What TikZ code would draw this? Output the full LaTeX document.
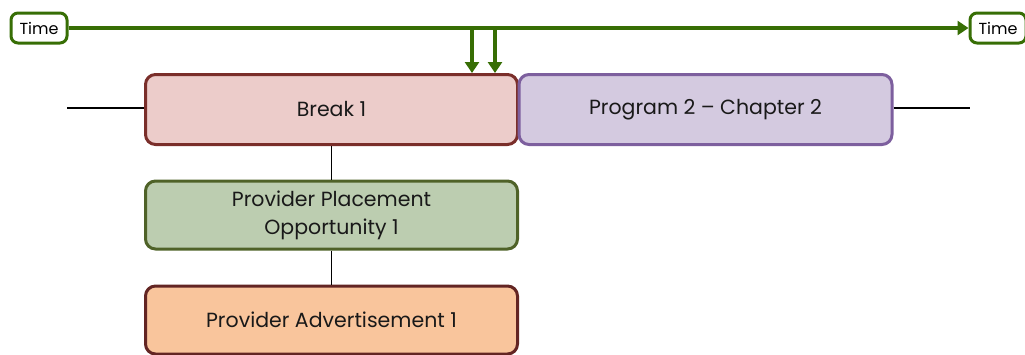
\documentclass[tikz,border=0pt]{standalone}
\usepackage{fontspec}
\setmainfont{Poppins}
\usetikzlibrary{arrows.meta}
\definecolor{tgreen}{HTML}{376E05}
\definecolor{brkfill}{HTML}{ECCCCA}
\definecolor{brkdraw}{HTML}{7A2E2A}
\definecolor{prgfill}{HTML}{D4CAE0}
\definecolor{prgdraw}{HTML}{7D5F9E}
\definecolor{oppfill}{HTML}{BCCDB0}
\definecolor{oppdraw}{HTML}{4F6228}
\definecolor{advfill}{HTML}{F9C59C}
\definecolor{advdraw}{HTML}{632523}
\tikzset{
  timebox/.style={draw=tgreen, line width=3pt, rounded corners=7pt, fill=white, minimum width=56pt, minimum height=30pt, inner sep=0pt, font=\fontsize{16}{18}\selectfont},
  blockbox/.style={line width=3pt, rounded corners=10pt, minimum width=372pt, inner sep=0pt, align=center, font=\fontsize{20.5}{28}\selectfont\color{black!90}},
  conn/.style={line width=1.7pt, black},
  tarrow/.style={draw=tgreen, line width=3.2pt, -{Triangle[length=11pt,width=14pt]}}
}
\begin{document}
\begin{tikzpicture}[x=1pt,y=-1pt]
\useasboundingbox (0,0) rectangle (1025,354);
\clip (0,0) rectangle (1025,354);
\node[timebox] (t1) at (39,28) {Time};
\node[timebox] (t2) at (998,28) {Time};
\node[blockbox, draw=brkdraw, fill=brkfill, minimum height=70pt] (brk) at (331.5,109.5) {Break 1};
\node[blockbox, draw=prgdraw, fill=prgfill, minimum height=70pt, minimum width=373pt] (prg) at (705.5,109.5) {Program 2 – Chapter 2};
\node[blockbox, draw=oppdraw, fill=oppfill, minimum height=68pt] (opp) at (331.5,215) {Provider Placement\\Opportunity 1};
\node[blockbox, draw=advdraw, fill=advfill, minimum height=68pt] (adv) at (331.5,320) {Provider Advertisement 1};
\coordinate (la) at (67,108);
\coordinate (lb) at (970,108);
\draw[tarrow] (t1.east) -- (t2.west);
\coordinate (a1) at (472,28);
\coordinate (a2) at (495,28);
\draw[tarrow] (a1) -- (a1 |- brk.north);
\draw[tarrow] (a2) -- (a2 |- brk.north);
\draw[conn] (la) -- (la -| brk.west);
\draw[conn] (prg.east |- lb) -- (lb);
\draw[conn] (brk.south) -- (opp.north);
\draw[conn] (opp.south) -- (adv.north);
\end{tikzpicture}
\end{document}
